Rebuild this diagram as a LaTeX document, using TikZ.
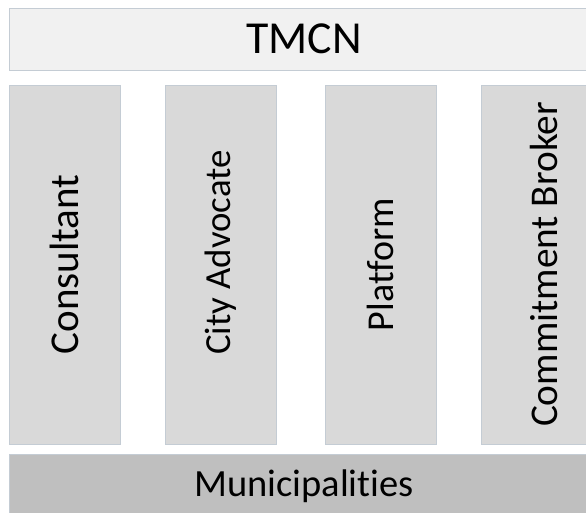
\documentclass[tikz,border=0pt]{standalone}
\usepackage{fontspec}
\setmainfont{Carlito}[Ligatures=NoCommon]
\definecolor{edgegray}{RGB}{196,204,212}
\definecolor{barlight}{RGB}{241,241,241}
\definecolor{pillargray}{RGB}{217,217,217}
\definecolor{bardark}{RGB}{191,191,191}
\newcommand{\fsize}[1]{\fontsize{#1}{#1}\selectfont}

\begin{document}
\begin{tikzpicture}[x=1pt,y=1pt,
    box/.style={draw=edgegray, line width=0.8pt, inner sep=0pt, outer sep=0pt},
    bar/.style={box, minimum width=590pt, minimum height=62pt},
    pillar/.style={box, fill=pillargray, rotate=90, minimum width=359pt},
    pillartext/.style={rotate=90, inner sep=0pt}
  ]
  \useasboundingbox (0,0) rectangle (586,512);
  \clip (0,0) rectangle (586,512);

  % top and bottom bars
  \node[bar, fill=barlight, font=\fsize{45.8}] (tmcn) at (304,473) {TMCN};
  \node[bar, fill=bardark, minimum height=64pt, font=\fsize{38.5}] (munic) at (304,26) {Municipalities};

  % the four roles
  \node[pillar, minimum height=111pt] (consultant) at (64.5,247.5) {};
  \node[pillar, minimum height=111pt] (advocate) at (220.5,247.5) {};
  \node[pillar, minimum height=111pt] (platform) at (380.5,247.5) {};
  \node[pillar, minimum height=126pt] (broker) at (544,247.5) {};

  \node[pillartext, font=\fsize{41}] (consultanttext) at (consultant.center) {Consultant};
  \node[pillartext, font=\fsize{36.8}] (advocatetext) at ([yshift=12pt]advocate.center) {City Advocate};
  \node[pillartext, font=\fsize{38}] (platformtext) at (platform.center) {Platform};
  \node[pillartext, font=\fsize{39.3}] (brokertext) at (broker.center) {Commitment Broker};
\end{tikzpicture}
\end{document}
